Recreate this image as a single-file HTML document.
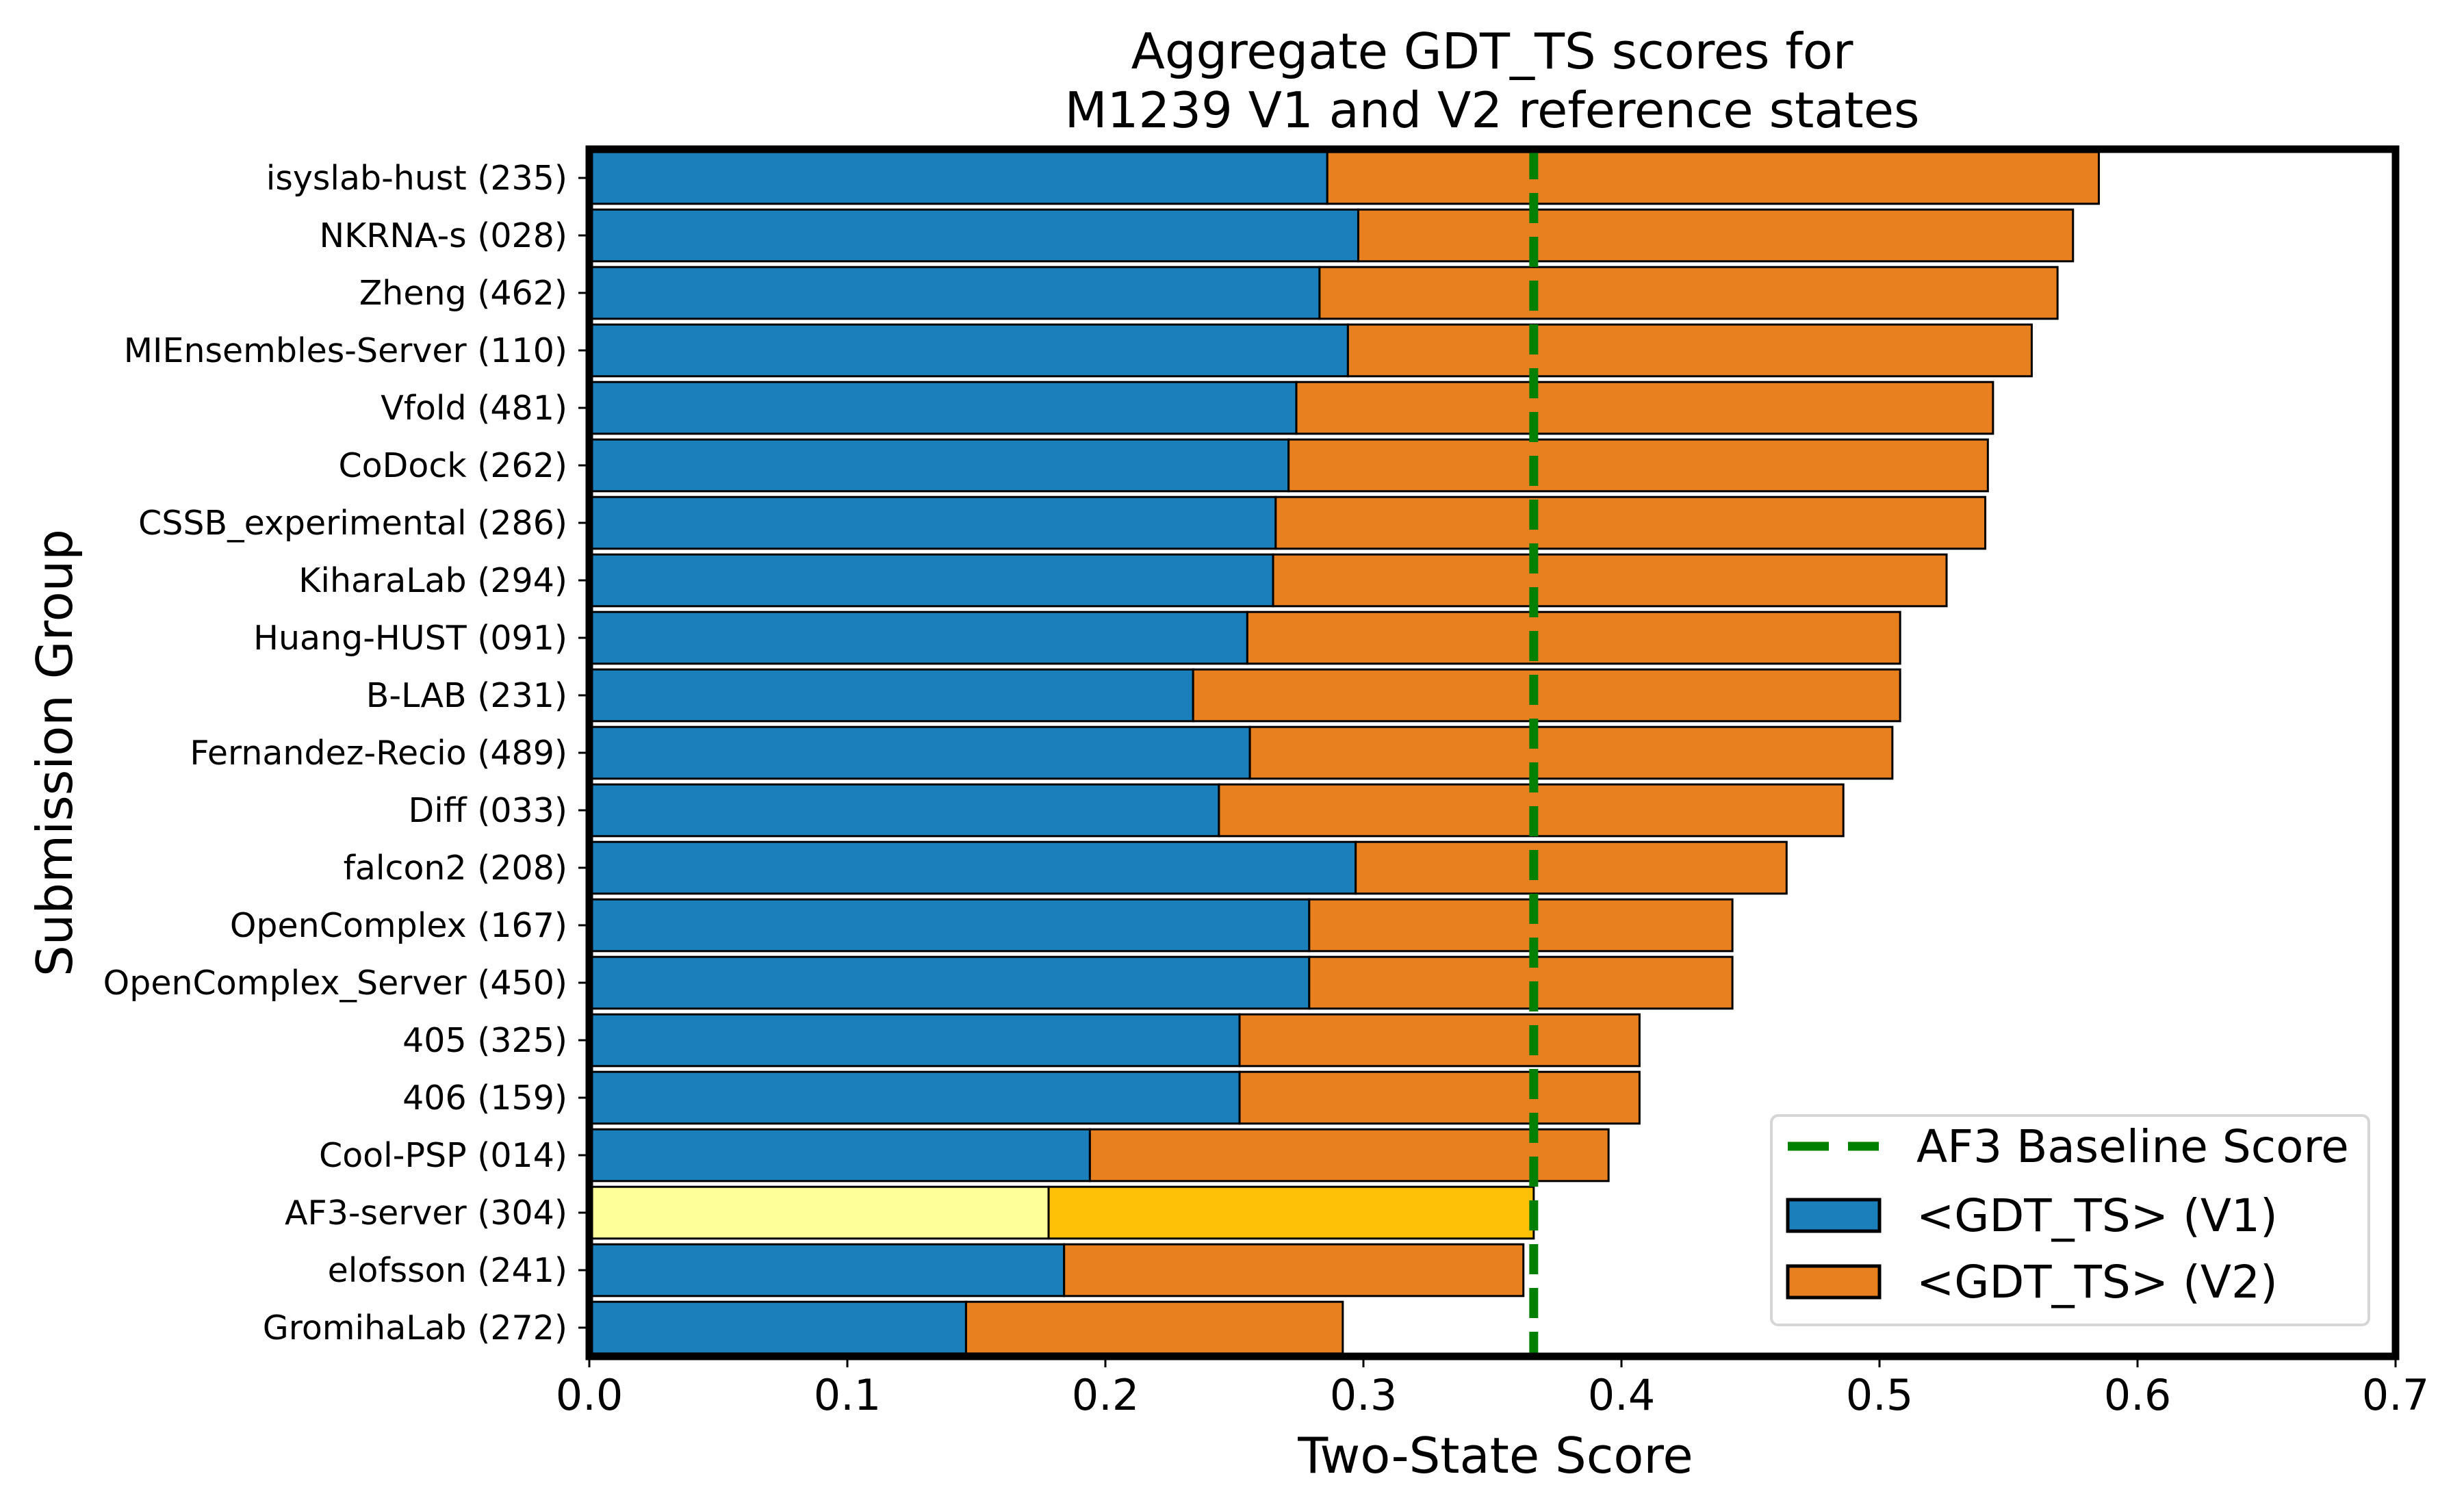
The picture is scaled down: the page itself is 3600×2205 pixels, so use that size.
<!DOCTYPE html>
<html><head><meta charset="utf-8"><style>
html,body{margin:0;padding:0;background:#fff;}
svg{display:block;font-family:"DejaVu Sans","Liberation Sans",sans-serif;}
</style></head><body>
<svg id="chart" width="3600" height="2205" viewBox="0 0 3600 2205">
<rect width="3600" height="2205" fill="#fff"/>
<text x="2180" y="100" font-size="72" text-anchor="middle">Aggregate GDT_TS scores for</text>
<text x="2180" y="186" font-size="72" text-anchor="middle">M1239 V1 and V2 reference states</text>
<g id="plot"></g>
<text x="2185" y="2152" font-size="72" text-anchor="middle">Two-State Score</text>
<text x="0" y="0" font-size="72" text-anchor="middle" transform="translate(105,1100) rotate(-90)">Submission Group</text>
</svg>
<script>
const categories = ["isyslab-hust (235)","NKRNA-s (028)","Zheng (462)","MIEnsembles-Server (110)","Vfold (481)","CoDock (262)","CSSB_experimental (286)","KiharaLab (294)","Huang-HUST (091)","B-LAB (231)","Fernandez-Recio (489)","Diff (033)","falcon2 (208)","OpenComplex (167)","OpenComplex_Server (450)","405 (325)","406 (159)","Cool-PSP (014)","AF3-server (304)","elofsson (241)","GromihaLab (272)"];
const v1Values = [0.286,0.298,0.283,0.294,0.274,0.271,0.266,0.265,0.255,0.234,0.256,0.244,0.297,0.279,0.279,0.252,0.252,0.194,0.178,0.184,0.146];
const v2Values = [0.299,0.277,0.286,0.265,0.270,0.271,0.275,0.261,0.253,0.274,0.249,0.242,0.167,0.164,0.164,0.155,0.155,0.201,0.188,0.178,0.146];
const baseline = 0.366;
const xTicks = [0.0,0.1,0.2,0.3,0.4,0.5,0.6,0.7];
const xTickLabels = ["0.0","0.1","0.2","0.3","0.4","0.5","0.6","0.7"];
const highlight = "AF3-server (304)";

const NS="http://www.w3.org/2000/svg";
const L=861, R=3500, T=218, B=1982;
const xMin=0, xMax=0.7;
const xs=v=>L+(v-xMin)/(xMax-xMin)*(R-L);
const n=categories.length;
const step=(B-T)/n;
const yc=i=>T+step*(i+0.5);
const bh=step*0.9;
const plot=document.getElementById('plot');
function mk(tag,attrs,parent){const e=document.createElementNS(NS,tag);for(const k in attrs)e.setAttribute(k,attrs[k]);(parent||plot).appendChild(e);return e;}

categories.forEach((c,i)=>{
  const hl=c===highlight;
  const y=yc(i)-bh/2;
  const r1=mk('rect',{x:xs(0),y:y,width:xs(v1Values[i])-xs(0),height:bh,fill:hl?'#ffff99':'#1a7fbb',stroke:'#000','stroke-width':3});
  
  
  const r2=mk('rect',{x:xs(v1Values[i]),y:y,width:xs(v1Values[i]+v2Values[i])-xs(v1Values[i]),height:bh,fill:hl?'#ffc107':'#e8801f',stroke:'#000','stroke-width':3});
  
  
  const tk=mk('line',{x1:L-16,x2:L,y1:yc(i),y2:yc(i),stroke:'#000','stroke-width':3});
  
  
  const t=mk('text',{x:L-32,y:yc(i)+17,'font-size':49,'text-anchor':'end'});
  t.textContent=c;
  
  
});

const bl=mk('line',{x1:xs(baseline),x2:xs(baseline),y1:T,y2:B,stroke:'#008000','stroke-width':13,'stroke-dasharray':'44 20'});



const frame=mk('rect',{x:L,y:T,width:R-L,height:B-T,fill:'none',stroke:'#000','stroke-width':11});



xTicks.forEach((v,i)=>{
  const tk=mk('line',{x1:xs(v),x2:xs(v),y1:B,y2:B+16,stroke:'#000','stroke-width':3});
  
  
  const t=mk('text',{x:xs(v),y:B+78,'font-size':62,'text-anchor':'middle'});
  t.textContent=xTickLabels[i];
  
  
});

// legend
const lg=mk('g',{});


mk('rect',{x:2588,y:1630,width:873,height:306,rx:10,fill:'#fff',stroke:'#d6d6d6','stroke-width':4},lg);
const e1=mk('line',{x1:2612,x2:2745,y1:1675,y2:1675,stroke:'#008000','stroke-width':13,'stroke-dasharray':'60 28'},lg);


const lt=[["AF3 Baseline Score",1675],["<GDT_TS> (V1)",1776],["<GDT_TS> (V2)",1873]];
const s1=mk('rect',{x:2612,y:1753,width:134,height:46,fill:'#1a7fbb',stroke:'#000','stroke-width':5},lg);


const s2=mk('rect',{x:2612,y:1850,width:134,height:46,fill:'#e8801f',stroke:'#000','stroke-width':5},lg);


lt.forEach(([s,y])=>{
  const t=mk('text',{x:2800,y:y+23,'font-size':66},lg);
  t.textContent=s;
  
  
});
</script>
</body></html>
